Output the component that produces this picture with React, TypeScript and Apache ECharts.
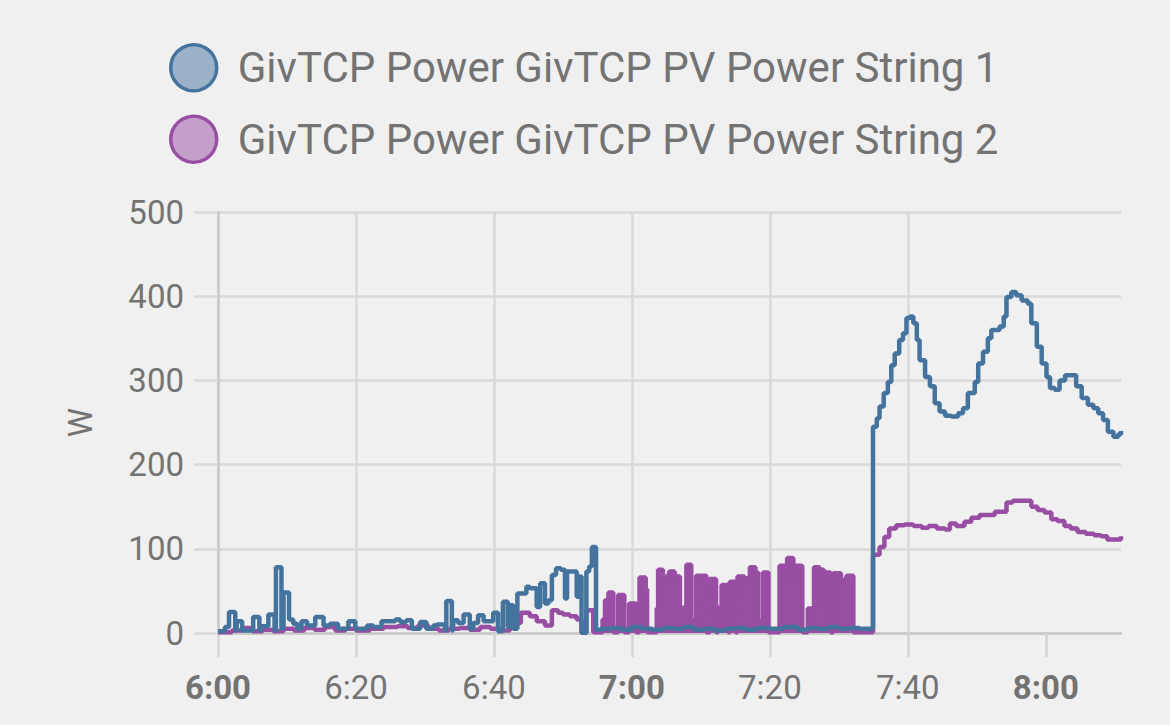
import React, { useEffect, useRef } from "react";
import * as echarts from "echarts";

// minutes after 6:00, watts
const string1Name = "GivTCP Power GivTCP PV Power String 1";
const string2Name = "GivTCP Power GivTCP PV Power String 2";

const string1Early: [number, number][] = [
  [0, 2], [1.0, 7], [1.6, 25], [2.5, 3], [2.7, 14], [3.5, 3], [5.1, 19], [6.0, 3], [6.3, 8], [7.3, 22],
  [8.2, 3], [8.4, 78], [9.2, 5], [9.5, 48], [10.3, 16], [10.9, 11], [11.5, 5], [12.1, 14], [12.9, 9],
  [14.1, 19], [15.3, 9], [16.2, 11], [17.4, 5], [18.9, 14], [19.9, 5], [21.6, 9], [22.5, 7], [23.7, 14],
  [25.7, 16], [26.4, 13], [27.3, 15], [28.1, 5], [29.3, 13], [30.2, 5], [31.2, 9], [31.7, 10], [32.9, 3],
  [33.1, 38], [33.9, 3], [34.1, 15], [34.8, 12], [35.6, 22], [36.5, 5], [37.0, 12], [37.7, 21], [38.5, 14],
  [39.9, 24], [40.6, 2], [41.3, 37], [42.0, 7], [42.3, 33], [42.8, 5], [43.4, 47], [44.7, 55], [45.2, 53],
  [46.2, 31], [46.7, 59], [47.4, 35], [47.9, 39], [48.4, 69], [49.0, 77], [49.7, 75], [50.3, 41],
  [50.6, 73], [52.0, 43], [52.4, 67], [52.7, 0], [53.4, 73], [53.8, 79], [54.2, 102], [54.8, 4],
];
const string1Flat: [number, number][] = [
  [55.5, 5], [57, 6], [58.5, 4], [60, 7], [61.5, 5], [63, 4], [64.5, 6], [66, 5], [67.5, 7], [69, 4],
  [70.5, 5], [72, 3], [73.5, 5], [75, 6], [76.5, 4], [78, 6], [80, 5], [82, 7], [84, 4], [85.5, 6],
  [87, 5], [88.5, 7], [90, 5], [91.5, 6], [93, 5],
];
const string1Late: [number, number][] = [
  [94.95, 245], [95.5, 255], [95.9, 269], [96.5, 285], [97.1, 298], [97.6, 318], [98.1, 332], [98.75, 348],
  [99.3, 356], [99.8, 374], [100.3, 376], [100.8, 368], [101.3, 348], [101.7, 324], [102.5, 304],
  [103.2, 293], [103.9, 273], [104.6, 263], [105.4, 258], [106.3, 257], [107.3, 261], [108.0, 267],
  [108.7, 285], [109.7, 298], [110.2, 320], [110.9, 334], [111.6, 350], [112.1, 360], [113.3, 364],
  [113.9, 376], [114.3, 399], [115.0, 405], [115.7, 401], [116.5, 395], [117.4, 391], [117.9, 368],
  [118.7, 340], [119.4, 320], [120.1, 304], [120.6, 291], [121.3, 289], [122.0, 300], [122.8, 306],
  [123.7, 306], [124.4, 293], [125.2, 279], [126.1, 271], [126.9, 267], [127.6, 261], [128.3, 253],
  [129.0, 239], [129.8, 233], [130.5, 236], [130.9, 240],
];

const string2Early: [number, number][] = [
  [0, 1], [2, 3], [3.5, 6], [5, 2], [6.5, 4], [8, 2], [9.5, 5], [11, 3], [12.5, 6], [14, 4], [15.5, 7],
  [17, 3], [18.5, 5], [20, 3], [22, 5], [24, 7], [26, 8], [27.5, 6], [29, 9], [30.5, 5], [32, 3],
  [33.5, 5], [35, 6], [36.5, 4], [38, 7], [39.5, 5], [41, 3], [42.3, 12], [43.9, 24], [45.2, 20],
  [46.2, 14], [47.4, 9], [48.4, 27], [49.3, 24], [50.0, 22], [51.0, 20], [52.0, 16], [52.7, 1],
  [53.4, 27],
];
const string2Blocks: [number, number][] = [
  [54.4, 1], [55.75, 16], [56.1, 39], [56.6, 48], [57.3, 1], [58.0, 45], [58.9, 1], [59.6, 35],
  [60.6, 1], [61.1, 66], [62.0, 52], [62.2, 1], [63.6, 29], [63.8, 75], [64.5, 67], [65.4, 73],
  [66.2, 67], [66.96, 30], [67.9, 81], [68.6, 15], [69.3, 68], [70.8, 1], [71.3, 64], [72.2, 1],
  [72.5, 30], [73.0, 57], [73.96, 1], [74.2, 61], [75.0, 1], [75.3, 67], [76.3, 63], [76.6, 65],
  [77.1, 78], [77.9, 72], [78.3, 14], [79.0, 72], [79.8, 1], [81.4, 80], [82.3, 67], [82.5, 89],
  [83.4, 67], [83.8, 80], [84.7, 1], [85.5, 29], [86.4, 78], [87.2, 75], [87.8, 72], [88.8, 1],
  [89.2, 71], [90.3, 63], [91.1, 68], [92.1, 1],
];
const string2Late: [number, number][] = [
  [94.95, 93], [95.9, 102], [96.6, 114], [97.3, 124], [98.3, 128], [99.5, 129], [100.8, 127],
  [102.0, 125], [103.0, 127], [104.2, 124], [105.4, 123], [106.1, 130], [107.0, 127], [108.2, 132],
  [109.2, 137], [110.4, 140], [111.6, 140], [112.6, 144], [113.5, 144], [114.3, 155], [115.2, 157],
  [116.2, 157], [117.1, 157], [117.9, 150], [118.8, 146], [119.8, 143], [120.8, 135], [121.7, 133],
  [122.7, 127], [123.6, 124], [124.6, 120], [125.8, 118], [127.0, 116], [128.0, 115], [128.9, 111],
  [129.9, 111], [130.9, 115],
];

const xTicks = [0, 20, 40, 60, 80, 100, 120];
const xMax = 130.9;
const yTicks = [0, 100, 200, 300, 400, 500];

const BLUE = "#44739e";
const PURPLE = "#984ea3";
const TEXT = "#737373";
const FONT = "Roboto";

function fmtX(v: number): string {
  const total = Math.round(v);
  const h = 6 + Math.floor(total / 60);
  const m = total % 60;
  if (m === 0) return `{b|${h}:00}`;
  return `${h}:${m < 10 ? "0" + m : m}`;
}

export default function App() {
  const ref = useRef<HTMLDivElement>(null);
  useEffect(() => {
    if (!ref.current) return;
    const chart = echarts.init(ref.current, undefined, { renderer: "svg" });
    chart.setOption({
      animation: false,
      backgroundColor: "#f0f0f0",
      textStyle: { fontFamily: FONT },
      legend: {
        orient: "vertical",
        left: 164,
        top: 38,
        itemWidth: 78,
        itemHeight: 46,
        itemGap: 22,
        icon: "circle",
        textStyle: { fontSize: 42, color: TEXT, fontFamily: FONT },
        data: [
          { name: string1Name, itemStyle: { color: "rgba(68,115,158,0.5)", borderColor: BLUE, borderWidth: 3.5 } },
          { name: string2Name, itemStyle: { color: "rgba(152,78,163,0.5)", borderColor: PURPLE, borderWidth: 3.5 } },
        ],
      },
      grid: { left: 218, right: 49, top: 212, bottom: 92, containLabel: false },
      xAxis: {
        type: "value",
        min: 0,
        max: xMax,
        interval: 20,
        axisLine: { show: true, lineStyle: { color: "#c8c8c8", width: 2.5 } },
        axisTick: { show: true, length: 24, customValues: xTicks, lineStyle: { color: "#d4d4d4", width: 2.5 } },
        splitLine: { show: true, showMaxLine: false, lineStyle: { color: "#d9d9d9", width: 2.5 } },
        axisLabel: {
          customValues: xTicks,
          margin: 38,
          fontSize: 33,
          color: TEXT,
          fontFamily: FONT,
          formatter: fmtX,
          rich: { b: { fontWeight: "bold", fontSize: 33, color: TEXT, fontFamily: FONT } },
        },
      },
      yAxis: {
        type: "value",
        min: 0,
        max: 500,
        interval: 100,
        name: "W",
        nameLocation: "middle",
        nameGap: 121,
        nameTextStyle: { fontSize: 33, color: TEXT, fontFamily: FONT },
        axisLine: { show: true, lineStyle: { color: "#c8c8c8", width: 2.5 } },
        axisTick: { show: true, length: 24, lineStyle: { color: "#d9d9d9", width: 2.5 } },
        splitLine: { show: true, lineStyle: { color: "#d9d9d9", width: 2.5 } },
        axisLabel: {
          customValues: yTicks,
          margin: 34,
          fontSize: 33,
          color: TEXT,
          fontFamily: FONT,
        },
      },
      series: [
        {
          name: string2Name,
          type: "line",
          step: "end",
          showSymbol: false,
          symbol: "none",
          z: 2,
          itemStyle: { color: PURPLE },
          lineStyle: { width: 0 },
          areaStyle: { color: PURPLE, opacity: 1 },
          data: string2Blocks,
        },
        {
          name: string2Name,
          type: "line",
          step: "end",
          showSymbol: false,
          symbol: "none",
          z: 3,
          itemStyle: { color: PURPLE },
          lineStyle: { width: 4.5, color: PURPLE },
          data: [...string2Early, ...string2Blocks, ...string2Late],
        },
        {
          name: string1Name,
          type: "line",
          step: "end",
          showSymbol: false,
          symbol: "none",
          z: 4,
          itemStyle: { color: BLUE },
          lineStyle: { width: 4.5, color: BLUE },
          data: [...string1Early, ...string1Flat, ...string1Late],
        },
      ],
    });
    return () => chart.dispose();
  }, []);
  return (
    <div
      ref={ref}
      style={{ position: "fixed", left: 0, top: 0, width: 1170, height: 725, background: "#f0f0f0" }}
    />
  );
}
